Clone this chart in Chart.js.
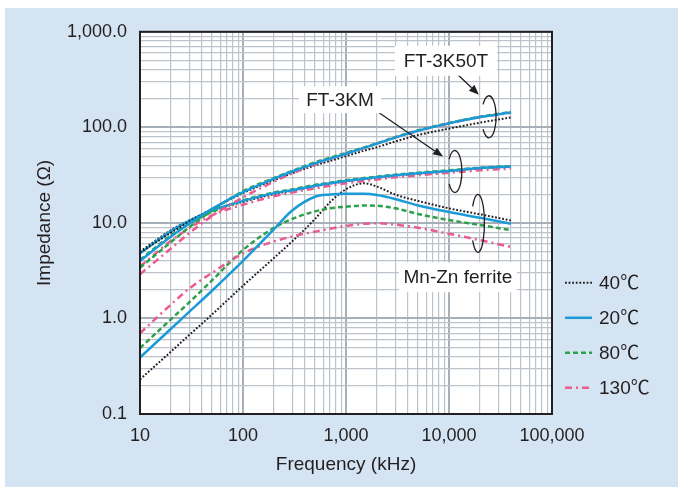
<!DOCTYPE html>
<html>
<head>
<meta charset="utf-8">
<script src="https://cdn.jsdelivr.net/npm/chart.js@4.4.1/dist/chart.umd.min.js"></script>
<style>
  html, body { margin: 0; padding: 0; background: #fff; }
  #wrap { position: absolute; left: 5px; top: 8px; width: 673px; height: 479px; background: #d5e4f3; }
  canvas { display: block; }
</style>
</head>
<body>
<div id="wrap"><canvas id="chart" width="673" height="479"></canvas></div>
<script>
// --- data (impedance in ohm vs frequency in kHz) ---
const freqKHz = [10, 20, 30, 50, 100, 200, 300, 500, 700, 1000, 1500, 2000, 3000, 5000, 10000, 20000, 40000];

const k50tMinus40 = [4.9, 7.9, 10.3, 14.0, 20.5, 28.0, 33.0, 40.0, 44.5, 50.0, 57.0, 62.0, 71.0, 83.0, 97.0, 112.0, 127.0];
const k50t20      = [4.0, 7.2, 9.8, 14.0, 21.0, 29.0, 34.5, 42.0, 47.0, 53.0, 61.0, 67.5, 78.0, 92.0, 110.0, 128.0, 143.0];
const k50t80      = [3.4, 6.3, 9.0, 13.5, 21.5, 29.5, 35.0, 43.0, 48.0, 54.0, 61.5, 68.0, 79.0, 93.0, 111.0, 129.0, 145.0];
const k50t130     = [2.9, 5.4, 7.8, 11.8, 18.5, 27.0, 33.0, 41.0, 46.5, 53.0, 61.0, 67.5, 78.0, 92.0, 110.0, 128.0, 142.0];

const kmMinus40 = [5.0, 8.4, 10.6, 13.4, 16.6, 20.0, 21.7, 24.2, 25.7, 27.2, 28.7, 29.7, 31.2, 32.7, 34.7, 37.2, 38.7];
const km20      = [4.8, 8.2, 10.5, 13.5, 17.0, 20.5, 22.0, 24.5, 26.0, 27.5, 29.0, 30.0, 31.5, 33.0, 35.0, 37.5, 39.0];
const km80      = [4.1, 7.4, 9.8, 13.0, 17.2, 20.8, 22.4, 25.0, 26.4, 28.0, 29.5, 30.5, 32.0, 33.5, 35.5, 37.8, 39.3];
const km130     = [3.5, 6.5, 8.8, 12.0, 15.5, 19.0, 20.8, 23.0, 24.5, 26.0, 27.5, 28.5, 30.0, 31.5, 33.5, 35.5, 37.0];

const mnznMinus40 = [0.23, 0.45, 0.67, 1.1, 2.2, 4.3, 6.4, 11.0, 16.5, 22.5, 26.0, 24.0, 19.8, 17.0, 14.2, 12.3, 10.6];
const mnzn20      = [0.39, 0.78, 1.17, 1.95, 4.0, 8.6, 13.5, 18.8, 19.8, 20.2, 20.2, 19.6, 17.8, 15.2, 13.0, 11.3, 9.8];
const mnzn80      = [0.49, 0.98, 1.47, 2.5, 5.2, 8.9, 11.0, 13.2, 14.2, 14.8, 15.2, 15.1, 14.2, 12.4, 10.7, 9.5, 8.4];
const mnzn130     = [0.70, 1.4, 2.05, 3.0, 4.8, 6.4, 7.2, 8.1, 8.7, 9.3, 9.8, 9.9, 9.6, 8.9, 7.7, 6.6, 5.6];

const tempLabels = ['40\u2103', '20\u2103', '80\u2103', '130\u2103'];
const groupLabels = ['FT-3K50T', 'FT-3KM', 'Mn-Zn ferrite'];

const xTickValues = [10, 100, 1000, 10000, 100000];
const xTickLabels = ['10', '100', '1,000', '10,000', '100,000'];
const yTickValues = [0.1, 1, 10, 100, 1000];
const yTickLabels = ['0.1', '1.0', '10.0', '100.0', '1,000.0'];

// --- styles ---
const FONT = "'Liberation Sans', Arial, 'Noto Sans CJK JP', sans-serif";
const INK = '#231f20';
const tempStyles = [
    { color: INK,       width: 2,   dash: [1.8, 1.8] },
    { color: '#1a9bd7', width: 2.5, dash: [] },
    { color: '#2ca14a', width: 2.5, dash: [5, 3] },
    { color: '#ea5b8f', width: 2.5, dash: [7, 4, 2, 4] }
];

const seriesByGroup = [
    [k50tMinus40, k50t20, k50t80, k50t130],
    [kmMinus40, km20, km80, km130],
    [mnznMinus40, mnzn20, mnzn80, mnzn130]
];

const datasets = [];
seriesByGroup.forEach((group, g) => {
    // draw blue first, dotted black last so the dots stay visible
    [1, 3, 2, 0].forEach(t => {
        const st = tempStyles[t];
        datasets.push({
            label: groupLabels[g] + ' ' + tempLabels[t],
            data: freqKHz.map((f, i) => ({ x: f, y: group[t][i] })),
            borderColor: st.color,
            borderWidth: st.width,
            borderDash: st.dash,
            pointRadius: 0,
            fill: false,
            cubicInterpolationMode: 'monotone'
        });
    });
});

function logGrid(lo, hi) {
    const out = [];
    for (let d = lo; d < hi; d *= 10) {
        for (let k = 1; k <= 9; k++) out.push({ value: +(k * d).toPrecision(6) });
    }
    out.push({ value: hi });
    return out;
}
function isDecade(v) {
    const l = Math.log10(v);
    return Math.abs(l - Math.round(l)) < 1e-6;
}
function labelFor(values, labels, v) {
    const i = values.findIndex(t => Math.abs(t - v) / t < 1e-6);
    return i >= 0 ? labels[i] : '';
}

// annotations, in data coordinates
const noteBoxes = [
    { text: 'FT-3K50T', f: 9350, z: 498, w: 102, h: 30 },
    { text: 'FT-3KM', f: 875, z: 195, w: 82, h: 27 },
    { text: 'Mn-Zn ferrite', f: 12200, z: 2.7, w: 118, h: 30 }
];
const loops = [
    { f: 24400, z: 129, rx: 7.2, ry: 21 },
    { f: 11400, z: 34.5, rx: 7, ry: 21 },
    { f: 19100, z: 9.9, rx: 6.5, ry: 29 }
];
const arrows = [
    { from: [12200, 356], to: [19500, 220] },
    { from: [1710, 165], to: [8750, 49.4] }
];

const decorPlugin = {
    id: 'decor',
    beforeDraw(chart) {
        const { ctx, chartArea: a } = chart;
        ctx.save();
        ctx.fillStyle = '#ffffff';
        ctx.fillRect(a.left, a.top, a.right - a.left, a.bottom - a.top);
        ctx.restore();
    },
    afterDatasetsDraw(chart) {
        const { ctx, chartArea: a, scales } = chart;
        const px = f => scales.x.getPixelForValue(f);
        const py = z => scales.y.getPixelForValue(z);
        ctx.save();
        // frame
        ctx.strokeStyle = INK;
        ctx.lineWidth = 2;
        ctx.strokeRect(a.left, a.top, a.right - a.left, a.bottom - a.top);

        // loops round each family of curves
        ctx.lineWidth = 1.3;
        loops.forEach(l => {
            ctx.beginPath();
            ctx.ellipse(px(l.f), py(l.z), l.rx, l.ry, 0, -Math.PI * 0.8, Math.PI * 0.8);
            ctx.stroke();
        });

        // arrows
        arrows.forEach(ar => {
            const x1 = px(ar.from[0]), y1 = py(ar.from[1]);
            const x2 = px(ar.to[0]), y2 = py(ar.to[1]);
            const ang = Math.atan2(y2 - y1, x2 - x1);
            const len = 10, half = 4;
            ctx.beginPath();
            ctx.moveTo(x1, y1);
            ctx.lineTo(x2 - len * Math.cos(ang), y2 - len * Math.sin(ang));
            ctx.stroke();
            ctx.beginPath();
            ctx.moveTo(x2, y2);
            ctx.lineTo(x2 - len * Math.cos(ang) + half * Math.sin(ang), y2 - len * Math.sin(ang) - half * Math.cos(ang));
            ctx.lineTo(x2 - len * Math.cos(ang) - half * Math.sin(ang), y2 - len * Math.sin(ang) + half * Math.cos(ang));
            ctx.closePath();
            ctx.fillStyle = INK;
            ctx.fill();
        });

        // labelled boxes
        ctx.font = '19px ' + FONT;
        ctx.textAlign = 'center';
        ctx.textBaseline = 'middle';
        noteBoxes.forEach(b => {
            const cx = px(b.f), cy = py(b.z);
            ctx.fillStyle = '#ffffff';
            ctx.fillRect(cx - b.w / 2, cy - b.h / 2, b.w, b.h);
            ctx.fillStyle = INK;
            ctx.fillText(b.text, cx, cy + 1);
        });

        // legend on the right
        ctx.textAlign = 'left';
        const lx = a.right + 13;
        tempLabels.forEach((t, i) => {
            const st = tempStyles[i];
            const y = a.top + 251 + i * 35;
            ctx.beginPath();
            ctx.setLineDash(st.dash);
            ctx.strokeStyle = st.color;
            ctx.lineWidth = st.width;
            ctx.moveTo(lx, y);
            ctx.lineTo(lx + 27, y);
            ctx.stroke();
            ctx.setLineDash([]);
            ctx.fillStyle = INK;
            ctx.fillText(t, lx + 34, y + 1);
        });
        ctx.restore();
    }
};

const gridColor = ctx => (ctx.tick && isDecade(ctx.tick.value)) ? '#a7afb9' : '#bcc3cb';
const gridWidth = ctx => (ctx.tick && isDecade(ctx.tick.value)) ? 2 : 1.2;

new Chart(document.getElementById('chart'), {
    type: 'line',
    data: { datasets },
    options: {
        responsive: false,
        animation: false,
        devicePixelRatio: 1,
        layout: { padding: { left: 0, top: 23, right: 126, bottom: 0 } },
        plugins: { legend: { display: false }, tooltip: { enabled: false } },
        scales: {
            x: {
                type: 'logarithmic',
                min: 10,
                max: 100000,
                afterBuildTicks: axis => { axis.ticks = logGrid(10, 100000); },
                afterFit: axis => { axis.height = 73; },
                grid: { color: gridColor, lineWidth: gridWidth, drawTicks: false },
                border: { display: false },
                ticks: {
                    autoSkip: false, maxRotation: 0, padding: 11, color: INK,
                    font: { family: FONT, size: 18 },
                    callback: v => labelFor(xTickValues, xTickLabels, v)
                },
                title: {
                    display: true, text: 'Frequency (kHz)', color: INK,
                    font: { family: FONT, size: 19 }, padding: { top: 0, bottom: 11 }
                }
            },
            y: {
                type: 'logarithmic',
                min: 0.1,
                max: 1000,
                afterBuildTicks: axis => { axis.ticks = logGrid(0.1, 1000); },
                afterFit: axis => { axis.width = 135; },
                grid: { color: gridColor, lineWidth: gridWidth, drawTicks: false },
                border: { display: false },
                ticks: {
                    autoSkip: false, padding: 13, color: INK,
                    font: { family: FONT, size: 18 },
                    callback: v => labelFor(yTickValues, yTickLabels, v)
                },
                title: {
                    display: true, text: 'Impedance (\u03A9)', color: INK,
                    font: { family: FONT, size: 19 }, padding: { top: 28, bottom: 0 }
                }
            }
        }
    },
    plugins: [decorPlugin]
});
</script>
</body>
</html>
